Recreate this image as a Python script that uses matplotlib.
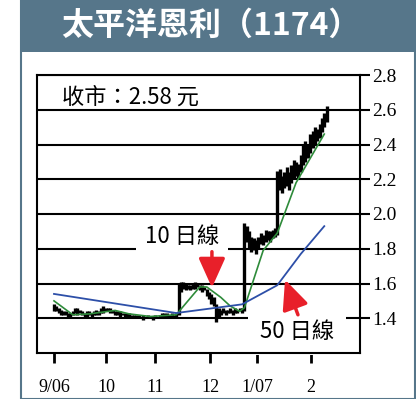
import matplotlib
matplotlib.use("Agg")
import matplotlib.pyplot as plt
from matplotlib.patches import Rectangle

plt.rcParams['font.family'] = ['Noto Sans CJK TC', 'DejaVu Sans']

# 每日最高 / 最低價 (交易日序號 0 = 2006-09-01)
low = [1.44, 1.44, 1.43, 1.42, 1.42, 1.42, 1.41, 1.41, 1.42, 1.43,
       1.42, 1.43, 1.42, 1.41, 1.41, 1.42, 1.41, 1.42, 1.42, 1.42,
       1.43, 1.43, 1.44, 1.44, 1.43, 1.43, 1.42, 1.42, 1.41, 1.42,
       1.41, 1.41, 1.40, 1.41, 1.40, 1.40, 1.40, 1.40, 1.39, 1.40,
       1.40, 1.40, 1.39, 1.40, 1.40, 1.40, 1.40, 1.41, 1.41, 1.40,
       1.41, 1.40, 1.40, 1.42, 1.55, 1.57, 1.56, 1.57, 1.56, 1.57,
       1.57, 1.58, 1.56, 1.55, 1.56, 1.53, 1.51, 1.48, 1.47, 1.38,
       1.40, 1.42, 1.43, 1.42, 1.43, 1.43, 1.42, 1.43, 1.43, 1.44,
       1.43, 1.44, 1.84, 1.80, 1.78, 1.79, 1.77, 1.80, 1.83, 1.82,
       1.84, 1.85, 1.84, 1.86, 1.87, 1.88, 2.14, 2.12, 2.15, 2.16,
       2.14, 2.18, 2.20, 2.22, 2.21, 2.24, 2.28, 2.30, 2.32, 2.35,
       2.38, 2.40, 2.42, 2.44, 2.47, 2.50, 2.53]
high = [1.48, 1.47, 1.46, 1.45, 1.44, 1.44, 1.43, 1.43, 1.44, 1.46,
        1.46, 1.45, 1.44, 1.43, 1.44, 1.44, 1.43, 1.44, 1.45, 1.44,
        1.46, 1.47, 1.46, 1.46, 1.46, 1.45, 1.44, 1.44, 1.44, 1.43,
        1.43, 1.43, 1.43, 1.42, 1.42, 1.42, 1.42, 1.41, 1.42, 1.41,
        1.42, 1.41, 1.41, 1.42, 1.41, 1.42, 1.43, 1.43, 1.43, 1.42,
        1.43, 1.42, 1.43, 1.60, 1.61, 1.61, 1.60, 1.59, 1.59, 1.60,
        1.61, 1.60, 1.59, 1.59, 1.58, 1.57, 1.55, 1.54, 1.52, 1.48,
        1.46, 1.45, 1.46, 1.45, 1.45, 1.46, 1.45, 1.46, 1.45, 1.46,
        1.46, 1.95, 1.93, 1.90, 1.87, 1.86, 1.85, 1.87, 1.89, 1.88,
        1.91, 1.90, 1.90, 1.91, 1.92, 2.25, 2.26, 2.22, 2.24, 2.27,
        2.24, 2.28, 2.31, 2.30, 2.29, 2.34, 2.40, 2.42, 2.40, 2.46,
        2.48, 2.50, 2.49, 2.52, 2.55, 2.58, 2.62]

# 10日線
ma10_day = [0, 8, 15, 26, 32, 41, 52, 62, 65, 71, 75, 79, 81, 89, 95, 103, 109, 115]
ma10_val = [1.50, 1.42, 1.425, 1.445, 1.425, 1.41, 1.42, 1.58, 1.58, 1.52, 1.47,
            1.44, 1.46, 1.79, 1.89, 2.18, 2.32, 2.46]
# 50日線
ma50_day = [0, 52, 80, 95, 105, 115]
ma50_val = [1.54, 1.43, 1.48, 1.59, 1.77, 1.93]

month_pos = [0, 22.1, 43, 66.4, 86.4, 109.4]
month_lbl = ["9/06", "10", "11", "12", "1/07", "2"]
price_ticks = [1.4, 1.6, 1.8, 2.0, 2.2, 2.4, 2.6, 2.8]

band = '#56768a'
fig = plt.figure(figsize=(4.16, 3.99), dpi=100)
W, H = 416, 399
fig.add_artist(Rectangle((21 / W, 0.5 / H), 394 / W, 397.5 / H, transform=fig.transFigure,
                         fill=False, ec=band, lw=1.5))
fig.add_artist(Rectangle((21 / W, 1 - 52 / H), 395 / W, 52 / H, transform=fig.transFigure,
                         color=band, lw=0))
fig.text(211 / W, 1 - 26 / H, "太平洋恩利（1174）", color='white', fontsize=23,
         fontweight='heavy', ha='center', va='center')

ax = fig.add_axes([37 / W, 1 - 353 / H, 323 / W, 278 / H])
ax.set_xlim(-7.23, 130.2)
ax.set_ylim(1.2, 2.8)
days = list(range(len(low)))
ax.vlines(days, low, high, color='black', lw=2.4, zorder=3)
ax.plot(ma10_day, ma10_val, color='#2e8b3a', lw=1.2, zorder=4)
ax.plot(ma50_day, ma50_val, color='#2d4fa8', lw=1.3, zorder=4)

ax.set_axisbelow(True)
ax.yaxis.tick_right()
ax.set_yticks(price_ticks)
ax.set_yticklabels([f"{v:.1f}" for v in price_ticks], family='Liberation Serif', fontsize=14)
ax.set_xticks(month_pos)
ax.set_xticklabels(month_lbl, family='Liberation Serif', fontsize=13)
ax.tick_params(axis='y', direction='out', length=7, width=1.5, pad=1.5)
ax.tick_params(axis='x', direction='out', length=7, width=2, pad=12)
ax.grid(axis='y', color='black', lw=1.5)
for s in ax.spines.values():
    s.set_linewidth(1.5)

ax.text(3.4, 2.674, "收市：2.58 元", fontsize=16, fontweight='light', va='center', ha='left')
ax.text(54.5, 1.869, "10 日線", fontsize=16, fontweight='light', va='center', ha='center',
        zorder=1.5, bbox=dict(boxstyle='square,pad=0.4', fc='white', ec='none'))
ax.text(103.4, 1.323, "50 日線", fontsize=16, fontweight='light', va='center', ha='center',
        zorder=1.5, bbox=dict(boxstyle='square,pad=0.55', fc='white', ec='none'))

red = '#e8202a'
ax.annotate('', xy=(67.2, 1.576), xytext=(67.2, 1.783), zorder=5,
            arrowprops=dict(arrowstyle='-|>,head_length=1.0,head_width=0.45', color=red,
                            lw=2.5, mutation_scale=18, shrinkA=0, shrinkB=0))
ax.annotate('', xy=(98.3, 1.622), xytext=(103.8, 1.42), zorder=5,
            arrowprops=dict(arrowstyle='-|>,head_length=1.0,head_width=0.45', color=red,
                            lw=2.5, mutation_scale=18, shrinkA=0, shrinkB=0))

fig.savefig("out.png", dpi=100)
